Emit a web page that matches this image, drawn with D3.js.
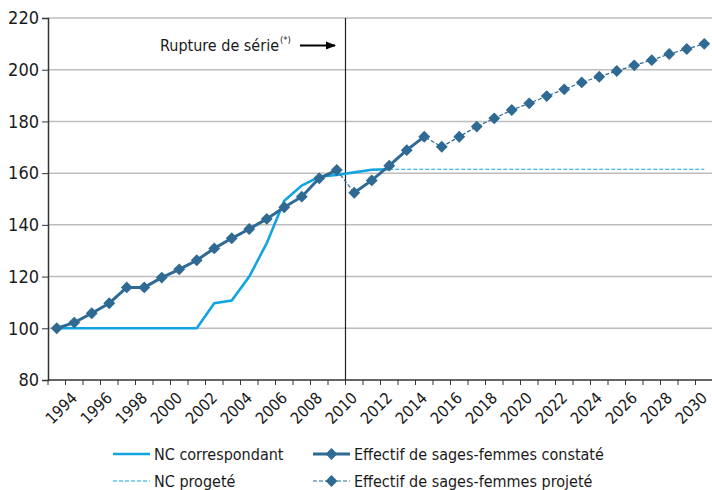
<!DOCTYPE html>
<html>
<head>
<meta charset="utf-8">
<script src="https://cdn.jsdelivr.net/npm/d3@7"></script>
<style>
  body { margin: 0; background: #fff; }
  svg text { font-family: "DejaVu Sans Condensed", "DejaVu Sans", sans-serif; fill: #1a1a1a; }
</style>
</head>
<body>
<div id="chart"></div>
<script>
// years on the category axis
const years = d3.range(1993, 2031);

// Effectif de sages-femmes constaté (two segments, break in 2010)
const constateA = [
  [1993, 100.0], [1994, 102.2], [1995, 105.8], [1996, 109.7], [1997, 115.8],
  [1998, 115.8], [1999, 119.6], [2000, 122.8], [2001, 126.3], [2002, 130.9],
  [2003, 134.8], [2004, 138.4], [2005, 142.3], [2006, 146.8], [2007, 150.9],
  [2008, 158.0], [2009, 161.2]
];
const constateB = [
  [2010, 152.4], [2011, 157.2], [2012, 162.9], [2013, 168.9], [2014, 174.1]
];

// Effectif de sages-femmes projeté
const projete = [
  [2009, 161.2], [2010, 152.4], [2011, 157.2], [2012, 162.9], [2013, 168.9],
  [2014, 174.1], [2015, 170.2], [2016, 174.1], [2017, 178.0], [2018, 181.2],
  [2019, 184.4], [2020, 187.0], [2021, 189.8], [2022, 192.4], [2023, 195.1],
  [2024, 197.3], [2025, 199.5], [2026, 201.7], [2027, 203.7], [2028, 206.1],
  [2029, 208.0], [2030, 210.0]
];

// NC correspondant
const ncCorr = [
  [1993, 100], [1994, 100], [1995, 100], [1996, 100], [1997, 100], [1998, 100],
  [1999, 100], [2000, 100], [2001, 100], [2002, 109.7], [2003, 110.7],
  [2004, 120.0], [2005, 132.9], [2006, 149.3], [2007, 155.2], [2008, 158.6],
  [2009, 159.3], [2010, 160.3], [2011, 161.3], [2012, 161.5]
];

// NC progeté
const ncProj = years.filter(y => y >= 2012).map(y => [y, 161.5]);

const yTicks = [80, 100, 120, 140, 160, 180, 200, 220];
const xLabels = years.filter(y => y % 2 === 0);

const W = 712, H = 490;
const margin = { top: 18, right: -1, bottom: 110, left: 48 };

const dark = "#2e6a94", light = "#12a4e0";

const svg = d3.select("#chart").append("svg")
  .attr("width", W).attr("height", H);

const x = d3.scalePoint()
  .domain(years)
  .range([margin.left, W - margin.right])
  .padding(0.5);
const step = x.step();

const y = d3.scaleLinear()
  .domain([80, 220])
  .range([H - margin.bottom, margin.top]);

// grid
svg.append("g")
  .selectAll("line")
  .data(yTicks.slice(1))
  .join("line")
  .attr("x1", margin.left).attr("x2", W)
  .attr("y1", d => y(d)).attr("y2", d => y(d))
  .attr("stroke", "#bdbdbd").attr("stroke-width", 1.5);

// y axis
const yAxis = svg.append("g")
  .attr("transform", "translate(" + margin.left + ",0)")
  .call(d3.axisLeft(y).tickValues(yTicks).tickSize(6).tickPadding(3));
yAxis.select(".domain").attr("stroke", "#333").attr("stroke-width", 1.5);
yAxis.selectAll(".tick line").attr("stroke", "#333");
yAxis.selectAll("text").attr("font-size", 18).style("font-family", null);

// x axis: ticks at category boundaries
const xg = svg.append("g");
xg.append("line")
  .attr("x1", margin.left).attr("x2", W)
  .attr("y1", y(80)).attr("y2", y(80))
  .attr("stroke", "#333").attr("stroke-width", 1.5);
xg.selectAll(".tk")
  .data(years)
  .join("line")
  .attr("class", "tk")
  .attr("x1", d => x(d) - step / 2).attr("x2", d => x(d) - step / 2)
  .attr("y1", y(80)).attr("y2", y(80) + 5)
  .attr("stroke", "#333");
xg.selectAll("text")
  .data(xLabels)
  .join("text")
  .attr("transform", d => "translate(" + (x(d) + 4) + "," + (y(80) + 19) + ") rotate(-45)")
  .attr("text-anchor", "end")
  .attr("font-size", 16)
  .text(d => d);

// rupture line
const xBreak = x(2010) - step / 2;
svg.append("line")
  .attr("x1", xBreak).attr("x2", xBreak)
  .attr("y1", margin.top).attr("y2", y(80))
  .attr("stroke", "#222").attr("stroke-width", 1.2);

// annotation
svg.append("text")
  .attr("x", 279).attr("y", 51)
  .attr("text-anchor", "end")
  .attr("font-size", 16)
  .text("Rupture de série");
svg.append("text")
  .attr("x", 280).attr("y", 43)
  .attr("font-size", 9.5)
  .text("(*)");
svg.append("defs").append("marker")
  .attr("id", "arr").attr("viewBox", "0 0 10 10")
  .attr("refX", 9).attr("refY", 5)
  .attr("markerWidth", 5).attr("markerHeight", 5)
  .attr("orient", "auto")
  .append("path").attr("d", "M0,1L10,5L0,9z").attr("fill", "#000");
svg.append("line")
  .attr("x1", 300).attr("x2", 335)
  .attr("y1", 45.5).attr("y2", 45.5)
  .attr("stroke", "#000").attr("stroke-width", 2)
  .attr("marker-end", "url(#arr)");

const line = d3.line().x(d => x(d[0])).y(d => y(d[1]));

// NC lines
svg.append("path").datum(ncProj)
  .attr("d", line).attr("fill", "none")
  .attr("stroke", light).attr("stroke-width", 1.2)
  .attr("stroke-dasharray", "4,2");
svg.append("path").datum(ncCorr)
  .attr("d", line).attr("fill", "none")
  .attr("stroke", light).attr("stroke-width", 2.6);

// projected
svg.append("path").datum(projete)
  .attr("d", line).attr("fill", "none")
  .attr("stroke", dark).attr("stroke-width", 1.2)
  .attr("stroke-dasharray", "4,2");

// observed
[constateA, constateB].forEach(seg => {
  svg.append("path").datum(seg)
    .attr("d", line).attr("fill", "none")
    .attr("stroke", dark).attr("stroke-width", 3);
});

const diamond = d3.symbol().type(d3.symbolDiamond2).size(90);
const allPts = constateA.concat(projete.filter(d => d[0] > 2009));
svg.append("g")
  .selectAll("path")
  .data(allPts)
  .join("path")
  .attr("transform", d => "translate(" + x(d[0]) + "," + y(d[1]) + ")")
  .attr("d", diamond)
  .attr("fill", dark);

// legend
const legend = [
  { label: "NC correspondant", col: light, w: 2.6, dash: null, mk: false, lx: 113, ly: 454 },
  { label: "Effectif de sages-femmes constaté", col: dark, w: 3, dash: null, mk: true, lx: 313, ly: 454 },
  { label: "NC progeté", col: light, w: 1.2, dash: "4,2", mk: false, lx: 113, ly: 481 },
  { label: "Effectif de sages-femmes projeté", col: dark, w: 1.2, dash: "4,2", mk: true, lx: 313, ly: 481 }
];
const lg = svg.append("g").selectAll("g").data(legend).join("g")
  .attr("transform", d => "translate(" + d.lx + "," + d.ly + ")");
lg.append("line")
  .attr("x1", 0).attr("x2", 37)
  .attr("stroke", d => d.col).attr("stroke-width", d => d.w)
  .attr("stroke-dasharray", d => d.dash);
lg.filter(d => d.mk).append("path")
  .attr("transform", "translate(18.5,0)")
  .attr("d", diamond).attr("fill", d => d.col);
lg.append("text")
  .attr("x", 41).attr("dy", "0.35em")
  .attr("font-size", 16)
  .text(d => d.label);
</script>
</body>
</html>
